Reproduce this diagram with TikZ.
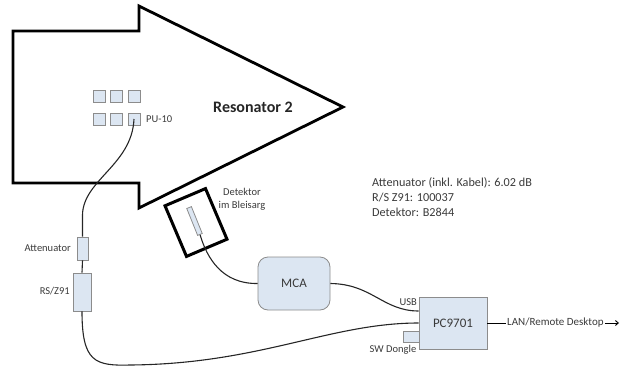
\documentclass[tikz,border=0pt]{standalone}
\usepackage{fontspec}
\setmainfont{Carlito}
\usetikzlibrary{arrows.meta}
\definecolor{boxfill}{HTML}{DCE6F2}
\definecolor{boxline}{HTML}{8C8C8C}
\definecolor{txt}{HTML}{3A3A3A}
\begin{document}
\begin{tikzpicture}[x=1pt,y=-1pt,
  lbl/.style={text=txt,font=\fontsize{10.5}{12}\selectfont,inner sep=0pt},
  bigbox/.style={draw=boxline,fill=boxfill,line width=0.8pt,text=txt,font=\fontsize{13}{15}\selectfont,inner sep=0pt},
  smallbox/.style={draw=boxline,fill=boxfill,line width=0.8pt,inner sep=0pt},
  cable/.style={line width=1.1pt,draw=black!85}]
\useasboundingbox (0,0) rectangle (620,369);
% Resonator arrow
\draw[line width=2.8pt,line join=miter] (13,31) -- (139,31) -- (139,6) -- (343,107) -- (139,208) -- (139,183) -- (13,183) -- cycle;
\node[text=black!85,font=\bfseries\fontsize{16}{18}\selectfont] (reso) at (253,107) {Resonator 2};
% pickup squares
\foreach \n/\x/\y in {1/99/96,2/116/96,3/134/96,4/99/119,5/116/119,6/134/119}
  \node[smallbox,minimum width=12pt,minimum height=12pt] (sq\n) at (\x,\y) {};
\node[lbl,anchor=west] (pu) at (146,119) {PU-10};
% attenuator chain
\node[smallbox,minimum width=11pt,minimum height=23pt] (att) at (82.5,248.5) {};
\node[smallbox,minimum width=18pt,minimum height=38pt] (rs) at (82,292) {};
\node[lbl,anchor=east] (attl) at (71,248) {Attenuator};
\node[lbl,anchor=east] (rsl) at (70,291) {RS/Z91};
% detector
\node[draw,line width=3pt,minimum width=44pt,minimum height=55pt,rotate=23] (det) at (196,222.5) {};
\node[smallbox,minimum width=5pt,minimum height=29pt,rotate=22] (probe) at (194.5,221) {};
\node[lbl,align=center,font=\fontsize{10.5}{13}\selectfont] (detl) at (242,199.5) {Detektor\\im Bleisarg};
% MCA, PC
\node[bigbox,rounded corners=10pt,minimum width=72pt,minimum height=53pt] (mca) at (294,283.5) {MCA};
\node[bigbox,minimum width=68pt,minimum height=52pt] (pc) at (453,323) {PC9701};
\node[smallbox,minimum width=16pt,minimum height=11pt] (dongle) at (411,336.5) {};
\node[lbl] (dongl) at (393,350) {SW Dongle};
\node[lbl,anchor=east] (usb) at (417,302) {USB};
% info
\node[lbl,anchor=west,align=left,font=\fontsize{12.2}{15}\selectfont] (info) at (372,197) {Attenuator (inkl. Kabel): 6.02 dB\\R/S Z91: 100037\\Detektor: B2844};
% LAN
\node[lbl,anchor=west,inner sep=1pt,font=\fontsize{11}{12}\selectfont] (lan) at (506,323) {LAN/Remote Desktop};
\coordinate (lanend) at (619,323);
% cables
\draw[cable] (sq6.center) .. controls (132,165) and (83,180) .. (82.5,215) -- (att.north);
\draw[cable] (att.south) -- (rs.north);
\draw[cable] (rs.south) .. controls (82,362) and (95,366) .. (130,365) .. controls (260,364) and (330,323) .. (pc.west);
\draw[cable] (probe.south) .. controls (207,258) and (222,284) .. (mca.west);
\draw[cable] (mca.east) .. controls (372,284) and (383,311) .. ([yshift=12pt]pc.west);
\draw[line width=0.9pt] (pc.east) -- (lan.west);
\draw[line width=0.9pt,-{Straight Barb[length=3pt,width=5pt]}] (lan.east) -- (lanend);
\end{tikzpicture}
\end{document}
